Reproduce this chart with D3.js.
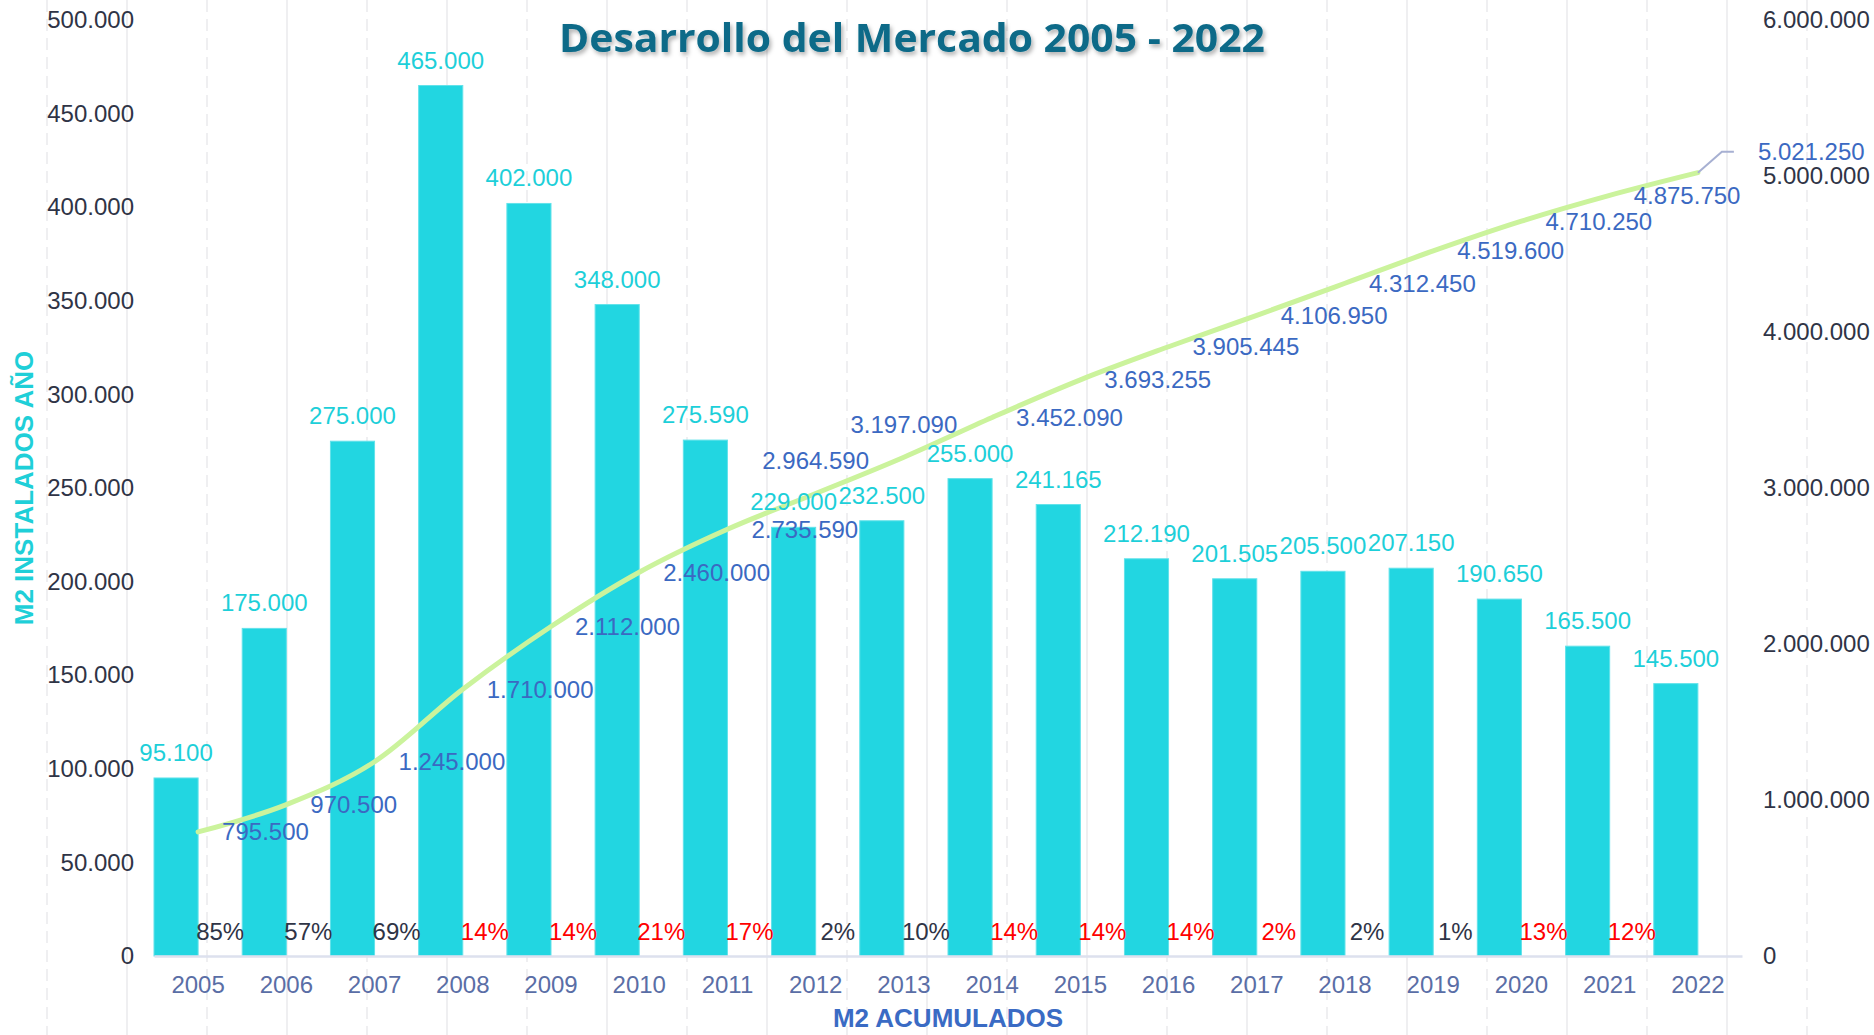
<!DOCTYPE html>
<html>
<head>
<meta charset="utf-8">
<script src="https://cdn.jsdelivr.net/npm/d3@7/dist/d3.min.js"></script>
<style>
	body { margin: 0; background: #fff; }
	svg text { font-family: 'Liberation Sans', Arial, sans-serif; }
</style>
</head>
<body>
<div id="chart"></div>
<script>
//d3.v7

var w = 1874;
var h = 1035;

var years = ['2005','2006','2007','2008','2009','2010','2011','2012','2013','2014','2015','2016','2017','2018','2019','2020','2021','2022'];
var installed = [95100, 175000, 275000, 465000, 402000, 348000, 275590, 229000, 232500, 255000, 241165, 212190, 201505, 205500, 207150, 190650, 165500, 145500];
var cumulative = [795500, 970500, 1245000, 1710000, 2112000, 2460000, 2735590, 2964590, 3197090, 3452090, 3693255, 3905445, 4106950, 4312450, 4519600, 4710250, 4875750, 5021250];
//change to next year, as printed (red when negative)
var change = [85, 57, 69, -14, -14, -21, -17, 2, 10, -14, -14, -14, -2, 2, 1, -13, -12, null];
var leftTicks = [0, 50000, 100000, 150000, 200000, 250000, 300000, 350000, 400000, 450000, 500000];
var rightTicks = [0, 1000000, 2000000, 3000000, 4000000, 5000000, 6000000];
//labels of the accumulated line that sit above the point instead of right of it
var labelsOnTop = ['2012', '2013'];

var locale = d3.formatLocale({decimal: ',', thousands: '.', grouping: [3], currency: ['', '']});
var fmt = locale.format(',d');

var svg = d3.select('#chart')
			.append('svg')
			.attr('width', w)
			.attr('height', h);

//shadow for the title
var defs = svg.append('defs');
defs.append('filter')
	.attr('id', 'shadow')
	.attr('x', '-5%').attr('y', '-30%').attr('width', '110%').attr('height', '160%')
	.append('feDropShadow')
	.attr('dx', 2).attr('dy', 3).attr('stdDeviation', 2)
	.attr('flood-color', '#000').attr('flood-opacity', 0.3);

//background grid
svg.append('g')
	.selectAll('line')
	.data(d3.range(47, w, 80))
	.enter()
	.append('line')
	.attr('x1', function(d) { return d; })
	.attr('x2', function(d) { return d; })
	.attr('y1', 0)
	.attr('y2', h)
	.attr('stroke', '#efeff1')
	.attr('stroke-width', 2)
	.attr('stroke-dasharray', function(d, i) { return i % 2 == 0 ? '12,7' : null; });

var x_scale = d3.scaleBand()
				.domain(years)
				.range([154, 1742]);
var bw = x_scale.bandwidth();

var yl_scale = d3.scaleLinear()
				.domain([0, 500000])
				.range([956, 20]);

var yr_scale = d3.scaleLinear()
				.domain([0, 6000000])
				.range([956, 20]);

//axes
var left_axis = d3.axisLeft(yl_scale)
				.tickValues(leftTicks)
				.tickFormat(fmt)
				.tickSize(0)
				.tickPadding(6);

var right_axis = d3.axisRight(yr_scale)
				.tickValues(rightTicks)
				.tickFormat(fmt)
				.tickSize(0)
				.tickPadding(8);

var x_axis = d3.axisBottom(x_scale)
				.tickSize(0)
				.tickSizeOuter(0)
				.tickPadding(20);

var gl = svg.append('g')
	.attr('transform', 'translate(140,0)')
	.call(left_axis);
gl.select('.domain').remove();

var gr = svg.append('g')
	.attr('transform', 'translate(1755,0)')
	.call(right_axis);
gr.select('.domain').remove();

svg.selectAll('.tick text')
	.attr('font-size', 24)
	.attr('font-family', "'Liberation Sans', Arial, sans-serif")
	.attr('fill', '#2f3446');

//bars
svg.append('g')
	.selectAll('rect')
	.data(installed)
	.enter()
	.append('rect')
	.attr('x', function(d, i) { return x_scale(years[i]); })
	.attr('y', function(d) { return yl_scale(d); })
	.attr('width', bw / 2)
	.attr('height', function(d) { return yl_scale(0) - yl_scale(d); })
	.attr('fill', '#22d6e1')
	.attr('stroke', '#62e2ea')
	.attr('stroke-width', 1);

var gx = svg.append('g')
	.attr('transform', 'translate(0,956)')
	.call(x_axis);
gx.select('.domain')
	.attr('stroke', '#dde1ee')
	.attr('stroke-width', 2.5);
gx.selectAll('text')
	.attr('font-size', 24)
	.attr('font-family', "'Liberation Sans', Arial, sans-serif")
	.attr('fill', '#5a6ea6');

//accumulated line
var line = d3.line()
			.x(function(d, i) { return x_scale(years[i]) + bw / 2; })
			.y(function(d) { return yr_scale(d); })
			.curve(d3.curveMonotoneX);

svg.append('path')
	.datum(cumulative)
	.attr('fill', 'none')
	.attr('stroke', '#cbf39c')
	.attr('stroke-width', 5)
	.attr('stroke-linecap', 'round')
	.attr('d', line);

//bar labels
svg.append('g')
	.selectAll('text')
	.data(installed)
	.enter()
	.append('text')
	.text(function(d) { return fmt(d); })
	.attr('x', function(d, i) { return x_scale(years[i]) + bw / 4; })
	.attr('y', function(d) { return yl_scale(d) - 17; })
	.attr('text-anchor', 'middle')
	.attr('font-size', 24)
	.attr('fill', '#1dcfd9');

//change labels
svg.append('g')
	.selectAll('text')
	.data(change.filter(function(d) { return d != null; }))
	.enter()
	.append('text')
	.text(function(d) { return Math.abs(d) + '%'; })
	.attr('x', function(d, i) { return x_scale(years[i]) + bw * 3 / 4; })
	.attr('y', 940)
	.attr('text-anchor', 'middle')
	.attr('font-size', 24)
	.attr('fill', function(d) { return d < 0 ? '#ff0000' : '#2f3446'; });

//accumulated labels
var last = cumulative.length - 1;
var lx = x_scale(years[last]) + bw / 2;
var ly = yr_scale(cumulative[last]);

svg.append('polyline')
	.attr('points', [[lx, ly], [lx + 24, ly - 21], [lx + 36, ly - 21]].join(' '))
	.attr('fill', 'none')
	.attr('stroke', '#a7b0d2')
	.attr('stroke-width', 2);

svg.append('g')
	.selectAll('text')
	.data(cumulative)
	.enter()
	.append('text')
	.text(function(d) { return fmt(d); })
	.attr('x', function(d, i) {
		var cx = x_scale(years[i]) + bw / 2;
		if (i == last) return cx + 60;
		return labelsOnTop.indexOf(years[i]) >= 0 ? cx : cx + 24;
	})
	.attr('y', function(d, i) {
		var cy = yr_scale(d);
		if (i == last) return cy - 21;
		return labelsOnTop.indexOf(years[i]) >= 0 ? cy - 33 : cy;
	})
	.attr('dy', '0.35em')
	.attr('text-anchor', function(d, i) {
		return labelsOnTop.indexOf(years[i]) >= 0 ? 'middle' : 'start';
	})
	.attr('font-size', 24)
	.attr('fill', '#3b69c2');

//axis names
svg.append('text')
	.text('M2 INSTALADOS AÑO')
	.attr('transform', 'translate(24,488) rotate(-90)')
	.attr('text-anchor', 'middle')
	.attr('dy', '0.35em')
	.attr('font-size', 26)
	.attr('font-weight', 'bold')
	.attr('fill', '#1fcfd8');

svg.append('text')
	.text('M2 ACUMULADOS')
	.attr('x', 948)
	.attr('y', 1018)
	.attr('text-anchor', 'middle')
	.attr('dy', '0.35em')
	.attr('font-size', 26)
	.attr('font-weight', 'bold')
	.attr('fill', '#3a6bc4');

//title
svg.append('text')
	.text('Desarrollo del Mercado 2005 - 2022')
	.attr('x', 559)
	.attr('y', 52)
	.attr('textLength', 706)
	.attr('lengthAdjust', 'spacingAndGlyphs')
	.style('font-family', "'Open Sans', 'Noto Sans', sans-serif")
	.attr('font-size', 40)
	.attr('font-weight', 'bold')
	.attr('fill', '#0b6a88')
	.attr('filter', 'url(#shadow)');
</script>
</body>
</html>
